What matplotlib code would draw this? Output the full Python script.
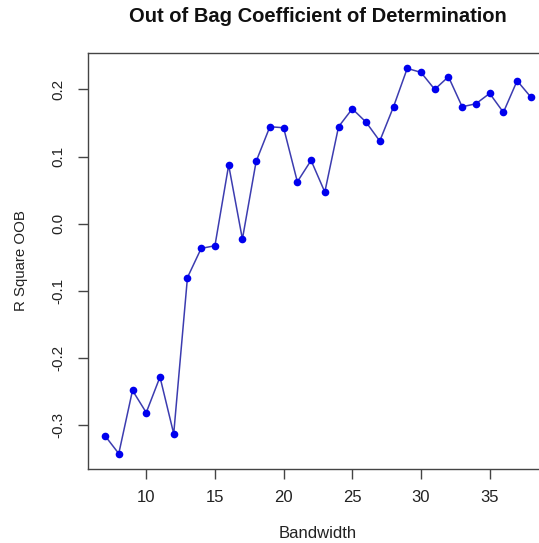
import matplotlib
matplotlib.use("Agg")
import matplotlib.pyplot as plt

bandwidth = list(range(7, 39))
r2_oob = [-0.3155, -0.342, -0.248, -0.281, -0.228, -0.3125, -0.080, -0.0366,
          -0.0327, 0.0873, -0.0228, 0.0928, 0.1444, 0.1429, 0.0625, 0.0943,
          0.0472, 0.1444, 0.1711, 0.1513, 0.1231, 0.1741, 0.2312, 0.2253,
          0.2000, 0.2188, 0.1741, 0.1786, 0.1940, 0.1658, 0.2128, 0.1885]
xticks = [10, 15, 20, 25, 30, 35]
yticks = [-0.3, -0.2, -0.1, 0.0, 0.1, 0.2]
ytick_labels = ["-0.3", "-0.2", "-0.1", "0.0", "0.1", "0.2"]

plt.rcParams['font.family'] = ['Liberation Sans', 'DejaVu Sans']

W, H = 539, 543
fig = plt.figure(figsize=(W / 100, H / 100), dpi=100)
ax = fig.add_axes([88 / W, 1 - 469 / H, (547.9 - 88) / W, (469 - 53) / H])

ax.plot(bandwidth, r2_oob, color='#3c3cb0', linewidth=1.1, zorder=2)
ax.plot(bandwidth, r2_oob, linestyle='none', marker='o', markersize=5.5,
        color='#0000ee', markeredgewidth=0, zorder=3)

xmin, xmax = min(bandwidth), max(bandwidth)
dx = (xmax - xmin) * 0.04
ymin, ymax = min(r2_oob), max(r2_oob)
dy = (ymax - ymin) * 0.04
ax.set_xlim(xmin - dx, xmax + dx)
ax.set_ylim(ymin - dy, ymax + dy)

ax.set_xticks(xticks)
ax.set_xticklabels([str(t) for t in xticks])
ax.set_yticks(yticks)
ax.set_yticklabels(ytick_labels, rotation=90, va='center')

for s in ax.spines.values():
    s.set_color('#444444')
    s.set_linewidth(1.0)
ax.tick_params(axis='both', direction='out', length=7, width=1.0,
               color='#444444', labelcolor='#222222')
ax.tick_params(axis='x', pad=8, labelsize=12)
ax.tick_params(axis='y', pad=9, labelsize=11)

ax.set_xlabel('Bandwidth', fontsize=12, color='#222222', labelpad=15)
ax.set_ylabel('R Square OOB', fontsize=10.8, color='#222222', labelpad=17)
fig.text(318 / W, 1 - 17 / H, 'Out of Bag Coefficient of Determination',
         ha='center', va='center', fontsize=14.5, fontweight='bold', color='#111111')

fig.savefig('out.png', dpi=100)
